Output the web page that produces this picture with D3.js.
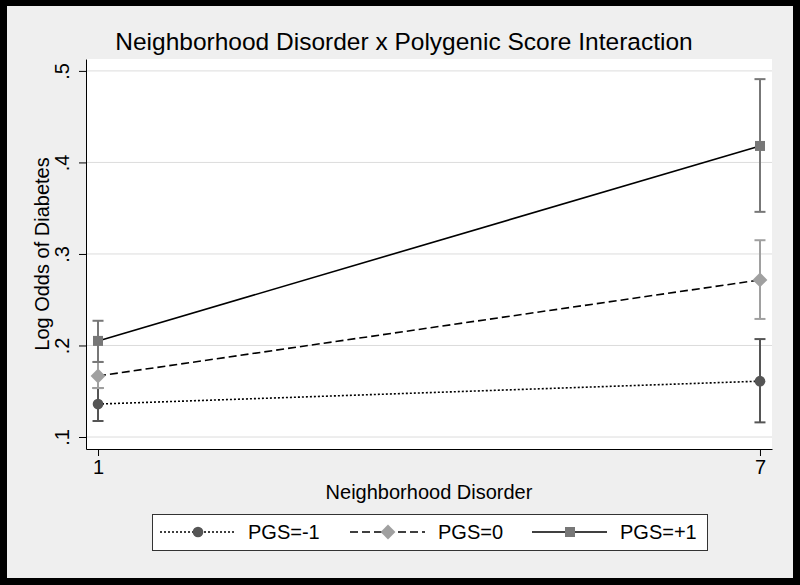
<!DOCTYPE html>
<html>
<head>
<meta charset="utf-8">
<script src="https://cdn.jsdelivr.net/npm/d3@7.9.0/dist/d3.min.js"></script>
<style>
  body { margin: 0; background: #000; }
  svg { display: block; font-family: "Liberation Sans", Arial, sans-serif; }
</style>
</head>
<body>
<svg id="chart" width="800" height="585"></svg>
<script>
// data
const xValues = [1, 7];
const yTicks = [0.1, 0.2, 0.3, 0.4, 0.5];
const yTickLabels = ['.1', '.2', '.3', '.4', '.5'];
const seriesNames = ['PGS=-1', 'PGS=0', 'PGS=+1'];
const estLow = [0.136, 0.161];
const ciLowLo = [0.1175, 0.116];
const ciLowHi = [0.1535, 0.207];
const estMid = [0.1667, 0.2716];
const ciMidLo = [0.1535, 0.229];
const ciMidHi = [0.182, 0.315];
const estHigh = [0.205, 0.418];
const ciHighLo = [0.182, 0.346];
const ciHighHi = [0.227, 0.491];

// diamond = square turned 45 degrees (Stata style)
const diamondWide = {
  draw(ctx, size) {
    const r = Math.sqrt(size / 2);
    ctx.moveTo(0, -r); ctx.lineTo(r, 0); ctx.lineTo(0, r); ctx.lineTo(-r, 0); ctx.closePath();
  }
};

const series = [
  { name: seriesNames[0], est: estLow, lo: ciLowLo, hi: ciLowHi, color: '#555555', dash: '2,2', shape: d3.symbolCircle, size: 90 },
  { name: seriesNames[1], est: estMid, lo: ciMidLo, hi: ciMidHi, color: '#a0a0a0', dash: '8,4', shape: diamondWide, size: 110 },
  { name: seriesNames[2], est: estHigh, lo: ciHighLo, hi: ciHighHi, color: '#777777', dash: null, shape: d3.symbolSquare, size: 100 }
];

const svg = d3.select('#chart');

// grey panel inside black frame
svg.append('rect').attr('x', 7).attr('y', 6).attr('width', 786).attr('height', 572).attr('fill', '#efefef');

const plot = { left: 86, right: 772, top: 59, bottom: 449 };

svg.append('rect')
  .attr('x', plot.left).attr('y', plot.top)
  .attr('width', plot.right - plot.left).attr('height', plot.bottom - plot.top)
  .attr('fill', '#fff');

const x = d3.scaleLinear().domain([0.891, 7.109]).range([plot.left, plot.right]);
const y = d3.scaleLinear().domain([0.0869, 0.513]).range([plot.bottom, plot.top]);

// gridlines
svg.append('g').selectAll('line').data(yTicks).join('line')
  .attr('x1', plot.left).attr('x2', plot.right)
  .attr('y1', d => y(d)).attr('y2', d => y(d))
  .attr('stroke', '#dcdcdc').attr('stroke-width', 1);

// y axis
const yAxis = svg.append('g').attr('transform', `translate(${plot.left},0)`)
  .call(d3.axisLeft(y).tickValues(yTicks).tickFormat((d, i) => yTickLabels[i]).tickSize(7).tickSizeOuter(0));
yAxis.select('.domain').attr('stroke', '#000');
yAxis.selectAll('.tick line').attr('stroke', '#000');
yAxis.selectAll('.tick text')
  .attr('x', 0).attr('dy', 0)
  .attr('text-anchor', 'middle')
  .attr('transform', 'translate(-17,0) rotate(-90)')
  .attr('font-size', 20).attr('fill', '#000');

// x axis
const xAxis = svg.append('g').attr('transform', `translate(0,${plot.bottom})`)
  .call(d3.axisBottom(x).tickValues(xValues).tickFormat(d3.format('d')).tickSize(7).tickSizeOuter(0));
xAxis.select('.domain').attr('stroke', '#000');
xAxis.selectAll('.tick line').attr('stroke', '#000');
xAxis.selectAll('.tick text').attr('y', 11).attr('font-size', 20).attr('fill', '#000');

// axis titles
svg.append('text').attr('x', (plot.left + plot.right) / 2).attr('y', 499)
  .attr('text-anchor', 'middle').attr('font-size', 20).text('Neighborhood Disorder');
svg.append('text').attr('transform', `translate(49,${(plot.top + plot.bottom) / 2}) rotate(-90)`)
  .attr('text-anchor', 'middle').attr('font-size', 20).text('Log Odds of Diabetes');

// title
svg.append('text').attr('x', 404).attr('y', 50)
  .attr('text-anchor', 'middle').attr('font-size', 24.5).text('Neighborhood Disorder x Polygenic Score Interaction');

// error bars
const capW = 11;
series.forEach(s => {
  const g = svg.append('g');
  xValues.forEach((xv, i) => {
    g.append('line').attr('x1', x(xv)).attr('x2', x(xv)).attr('y1', y(s.lo[i])).attr('y2', y(s.hi[i]))
      .attr('stroke', s.color).attr('stroke-width', 2);
    [s.lo[i], s.hi[i]].forEach(v => {
      g.append('line').attr('x1', x(xv) - capW / 2).attr('x2', x(xv) + capW / 2).attr('y1', y(v)).attr('y2', y(v))
        .attr('stroke', s.color).attr('stroke-width', 2);
    });
  });
});

// lines
const line = d3.line().x((d, i) => x(xValues[i])).y(d => y(d));
series.forEach(s => {
  svg.append('path').attr('d', line(s.est)).attr('fill', 'none')
    .attr('stroke', '#000').attr('stroke-width', 1.6)
    .attr('stroke-dasharray', s.dash);
});

// markers
series.forEach(s => {
  svg.append('g').selectAll('path').data(s.est).join('path')
    .attr('d', d3.symbol().type(s.shape).size(s.size))
    .attr('transform', (d, i) => `translate(${x(xValues[i])},${y(d)})`)
    .attr('fill', s.color);
});

// legend
svg.append('rect').attr('x', 152.5).attr('y', 514.5).attr('width', 555).attr('height', 36)
  .attr('fill', '#fff').attr('stroke', '#333').attr('stroke-width', 1);
const legendX = [160, 350, 532];
const ly = 532;
series.forEach((s, i) => {
  const lx = legendX[i];
  svg.append('line').attr('x1', lx).attr('x2', lx + 75).attr('y1', ly).attr('y2', ly)
    .attr('stroke', '#000').attr('stroke-width', 1.6).attr('stroke-dasharray', s.dash);
  svg.append('path').attr('d', d3.symbol().type(s.shape).size(s.size)())
    .attr('transform', `translate(${lx + 38},${ly})`).attr('fill', s.color);
  svg.append('text').attr('x', lx + 88).attr('y', ly + 7).attr('font-size', 20).text(s.name);
});
</script>
</body>
</html>
